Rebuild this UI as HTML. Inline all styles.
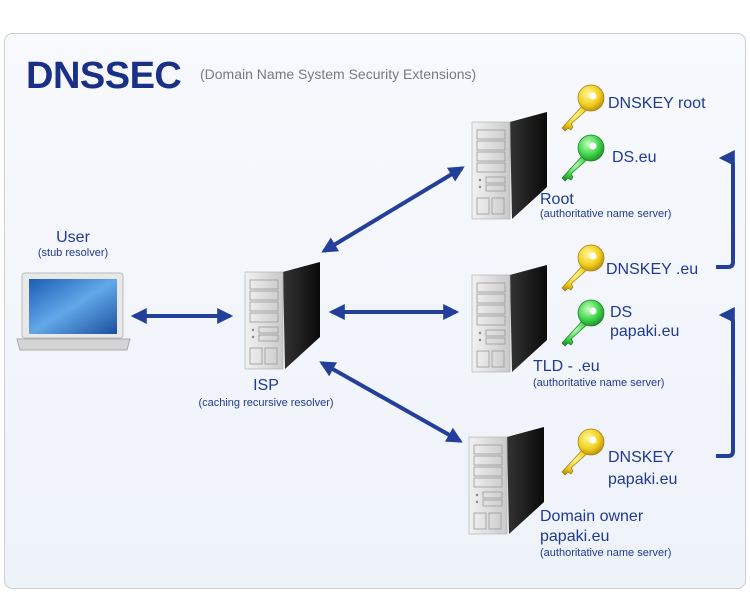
<!DOCTYPE html>
<html><head><meta charset="utf-8"><style>
body{margin:0;background:#fff}
svg{display:block;font-family:"Liberation Sans",sans-serif}
</style></head><body>
<svg width="750" height="606" viewBox="0 0 750 606">
<defs>
<linearGradient id="bg" x1="0" y1="0" x2="0" y2="1"><stop offset="0" stop-color="#f7f9fd"/><stop offset="1" stop-color="#eef2f9"/></linearGradient>
<linearGradient id="front" x1="0" y1="0" x2="1" y2="0"><stop offset="0" stop-color="#f2f2f2"/><stop offset="1" stop-color="#c9c9c9"/></linearGradient>
<linearGradient id="side" x1="0" y1="0" x2="1" y2="0"><stop offset="0" stop-color="#333"/><stop offset="1" stop-color="#0a0a0a"/></linearGradient>
<radialGradient id="yk" cx="0.4" cy="0.35" r="0.7"><stop offset="0" stop-color="#fff9a0"/><stop offset="0.6" stop-color="#f1cf1e"/><stop offset="1" stop-color="#b88a0c"/></radialGradient>
<radialGradient id="gk" cx="0.4" cy="0.35" r="0.7"><stop offset="0" stop-color="#c8ffc0"/><stop offset="0.6" stop-color="#3fd44a"/><stop offset="1" stop-color="#1c8a25"/></radialGradient>
<linearGradient id="scr" x1="0" y1="0" x2="1" y2="1"><stop offset="0" stop-color="#1b5db5"/><stop offset="0.5" stop-color="#62a8e8"/><stop offset="1" stop-color="#1a4f9e"/></linearGradient>
<g id="srv">
<polygon points="0,12 38,2 75,-10 38,0" fill="#555"/>
<polygon points="38,0 75,-10 75,65 40,97" fill="url(#side)"/>
<rect x="0" y="0" width="38" height="97" fill="url(#front)" stroke="#aaa" stroke-width="0.6"/>
<g fill="none" stroke="#999" stroke-width="0.8">
<rect x="5" y="8" width="28" height="9"/><rect x="5" y="19" width="28" height="9"/><rect x="5" y="30" width="28" height="9"/><rect x="5" y="41" width="28" height="9"/>
<rect x="14" y="55" width="19" height="6"/><rect x="14" y="63" width="19" height="6"/>
<rect x="5" y="76" width="12" height="16"/><rect x="20" y="76" width="12" height="16"/></g>
<circle cx="8" cy="58" r="1.2" fill="#888"/><circle cx="8" cy="65" r="1.2" fill="#888"/>
</g>
<g id="key">
<path d="M24,20 L2,44 L5,47 L8,44 L11,46 L13,43 L11,40 L31,22 Z" />
<circle cx="31" cy="14" r="13"/>
</g>
<marker id="ah" viewBox="0 0 10 10" refX="8" refY="5" markerWidth="4" markerHeight="4" orient="auto-start-reverse"><path d="M0,0 L10,5 L0,10 Z" fill="#233f9a"/></marker>
</defs>
<rect x="4.5" y="33.5" width="741" height="555" rx="8" fill="url(#bg)" stroke="#cfcfcf"/>
<text x="26" y="88" font-size="38" font-weight="bold" fill="#1a2f86" letter-spacing="-0.5">DNSSEC</text>
<text x="200" y="79" font-size="14" fill="#7a7a7a">(Domain Name System Security Extensions)</text>

<use href="#srv" x="472" y="122"/>
<use href="#srv" x="245" y="272"/>
<use href="#srv" x="472" y="275"/>
<use href="#srv" x="469" y="437"/>

<rect x="22" y="273" width="101" height="65" rx="3" fill="#e8e8e8" stroke="#bbb"/>
<rect x="29" y="279" width="88" height="55" fill="url(#scr)"/>
<path d="M17,339 L130,339 L127,350 L20,350 Z" fill="#d5d5d5" stroke="#aaa"/>

<g fill="url(#yk)" stroke="#a07a10" stroke-width="0.7"><use href="#key" x="560" y="84"/><use href="#key" x="560" y="244"/><use href="#key" x="560" y="428"/></g>
<g fill="url(#gk)" stroke="#1d7a24" stroke-width="0.7"><use href="#key" x="560" y="134"/><use href="#key" x="560" y="299"/></g>
<g fill="#fff"><circle cx="593" cy="96" r="3.5"/><circle cx="593" cy="146" r="3.5"/><circle cx="593" cy="256" r="3.5"/><circle cx="593" cy="311" r="3.5"/><circle cx="593" cy="440" r="3.5"/></g>

<g stroke="#233f9a" stroke-width="4" fill="none" marker-start="url(#ah)" marker-end="url(#ah)">
<line x1="134" y1="316" x2="230" y2="316"/>
<line x1="332" y1="312" x2="456" y2="312"/>
<line x1="324" y1="251" x2="462" y2="168"/>
<line x1="322" y1="363" x2="460" y2="441"/>
</g>
<g stroke="#233f9a" stroke-width="4" fill="none">
<path d="M716,267 L728,267 Q733,267 733,262 L733,165 Q733,158 722,158" marker-end="url(#ah)"/>
<path d="M716,456 L728,456 Q733,456 733,451 L733,322 Q733,315 722,315" marker-end="url(#ah)"/>
</g>

<g fill="#1f3a90">
<text x="608" y="108" font-size="16">DNSKEY root</text>
<text x="612" y="162" font-size="16">DS.eu</text>
<text x="540" y="204" font-size="16">Root</text>
<text x="540" y="217" font-size="11">(authoritative name server)</text>
<text x="606" y="274" font-size="16">DNSKEY .eu</text>
<text x="610" y="317" font-size="16">DS</text>
<text x="610" y="336" font-size="16">papaki.eu</text>
<text x="533" y="371" font-size="16">TLD - .eu</text>
<text x="533" y="386" font-size="11">(authoritative name server)</text>
<text x="608" y="462" font-size="16">DNSKEY</text>
<text x="608" y="484" font-size="16">papaki.eu</text>
<text x="540" y="521" font-size="16">Domain owner</text>
<text x="540" y="541" font-size="16">papaki.eu</text>
<text x="540" y="556" font-size="11">(authoritative name server)</text>
<text x="266" y="390" font-size="16" text-anchor="middle">ISP</text>
<text x="266" y="406" font-size="11" text-anchor="middle">(caching recursive resolver)</text>
<text x="73" y="242" font-size="16" text-anchor="middle">User</text>
<text x="73" y="256" font-size="11" text-anchor="middle">(stub resolver)</text>
</g>
</svg>
</body></html>
